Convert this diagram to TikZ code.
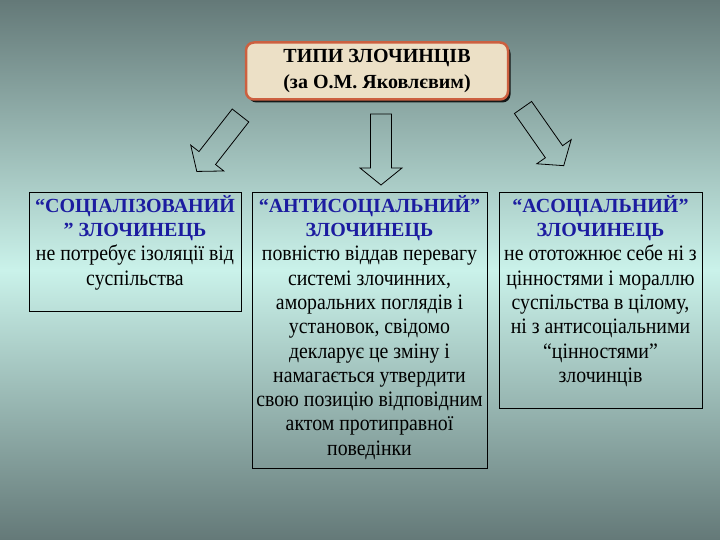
\documentclass[tikz,border=0pt]{standalone}
\usepackage{fontspec}
\setmainfont{Liberation Serif}
\newfontfamily\bodyfont[FakeStretch=0.9]{Liberation Serif}
\usetikzlibrary{positioning,shadows}

\definecolor{bgedge}{RGB}{100,121,120}
\definecolor{bgmid}{RGB}{202,242,234}
\definecolor{headblue}{RGB}{28,28,160}
\definecolor{titlefill}{RGB}{236,224,198}
\definecolor{titleedge}{RGB}{204,96,64}

\newcommand{\typehead}[1]{{\color{headblue}\rmfamily\bfseries\fontsize{20}{24.3}\selectfont #1}}

\begin{document}
\begin{tikzpicture}[x=1pt,y=1pt,
  titlebox/.style={draw=titleedge, line width=2.5pt, fill=titlefill,
    rounded corners=8pt, minimum width=262pt, minimum height=57pt,
    align=center, font=\rmfamily\bfseries\fontsize{20}{26}\selectfont,
    drop shadow={shadow xshift=2.5pt, shadow yshift=-3pt, fill=black, opacity=0.85}},
  typebox/.style={draw, line width=0.8pt, inner sep=0pt},
  typetext/.style={align=center, inner sep=0pt,
    font=\bodyfont\fontsize{22}{24.3}\selectfont},
  blockarrow/.pic={
    \draw[line width=0.8pt] (0,-10.5) -- (54,-10.5) -- (54,-21) -- (71,0)
      -- (54,21) -- (54,10.5) -- (0,10.5) -- cycle;
  }]

% background
\shade[top color=bgedge, bottom color=bgedge, middle color=bgmid]
  (0,0) rectangle (720,540);
\useasboundingbox (0,0) rectangle (720,540);

% title
\node[titlebox] (title) at (377,469) {ТИПИ ЗЛОЧИНЦІВ\\(за О.М. Яковлєвим)};

% arrows
\pic[rotate=232] (arrleft) at (240.5,424.5) {blockarrow};
\pic[rotate=-90] (arrmid) at (381,426) {blockarrow};
\pic[rotate=-55] (arrright) at (523,432.5) {blockarrow};

% type boxes
\node[typebox, minimum width=212pt, minimum height=119pt, anchor=north] (soc) at (135,348) {};
\node[typebox, minimum width=235pt, minimum height=276pt, anchor=north] (anti) at (369.5,348) {};
\node[typebox, minimum width=203pt, minimum height=216pt, anchor=north] (asoc) at (600.5,348) {};

% texts
\node[typetext, below=3pt of soc.north] (soctext) {\typehead{“СОЦІАЛІЗОВАНИЙ}\\
  \typehead{” ЗЛОЧИНЕЦЬ}\\
  не потребує ізоляції від\\
  суспільства};
\node[typetext, below=3pt of anti.north] (antitext) {\typehead{“АНТИСОЦІАЛЬНИЙ”}\\
  \typehead{ЗЛОЧИНЕЦЬ}\\
  повністю віддав перевагу\\
  системі злочинних,\\
  аморальних поглядів і\\
  установок, свідомо\\
  декларує це зміну і\\
  намагається утвердити\\
  свою позицію відповідним\\
  актом протиправної\\
  поведінки};
\node[typetext, below=3pt of asoc.north] (asoctext) {\typehead{“АСОЦІАЛЬНИЙ”}\\
  \typehead{ЗЛОЧИНЕЦЬ}\\
  не ототожнює себе ні з\\
  цінностями і мораллю\\
  суспільства в цілому,\\
  ні з антисоціальними\\
  “цінностями”\\
  злочинців};

\end{tikzpicture}
\end{document}
